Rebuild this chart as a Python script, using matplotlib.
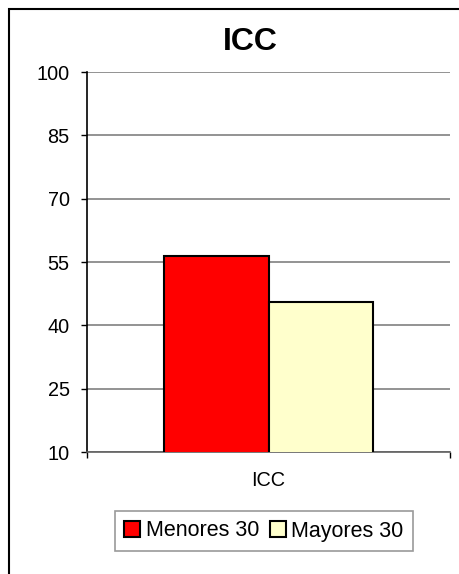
import matplotlib
matplotlib.use("Agg")
import matplotlib.pyplot as plt
from matplotlib.patches import Rectangle

plt.rcParams['font.family'] = ['Liberation Sans', 'DejaVu Sans']

#%% data
categories = ["ICC"]
series_names = ["Menores 30", "Mayores 30"]
menores = [56.5]
mayores = [45.5]
yticks = [10, 25, 40, 55, 70, 85, 100]

#%% figure
fig = plt.figure(figsize=(4.59, 5.74), dpi=100)
fig.patch.set_facecolor("white")

# outer chart border (cut off at right and bottom)
fig.patches.append(Rectangle((9 / 459, -0.2), 2, 0.2 + 1 - 9 / 574,
                             transform=fig.transFigure, fill=False,
                             edgecolor="black", linewidth=1.5, zorder=0))

ax = fig.add_axes([87 / 459, 1 - 452 / 574, 363 / 459, 380 / 574])

w = 0.287
x0 = 0
ax.bar(x0 - w / 2, menores[0], width=w, color="#ff0000", edgecolor="black",
       linewidth=1.5, label=series_names[0], zorder=3)
ax.bar(x0 + w / 2, mayores[0], width=w, color="#ffffcc", edgecolor="black",
       linewidth=1.5, label=series_names[1], zorder=3)

ax.set_xlim(-0.5, 0.5)
ax.set_ylim(10, 100)
ax.set_yticks(yticks)
ax.yaxis.grid(True, color="#808080", linewidth=1.2, zorder=0)
ax.tick_params(axis="y", direction="out", length=4.5, width=1, labelsize=14.3,
               pad=8, color="black")

ax.set_xticks([-0.5, 0.5])
ax.set_xticklabels(["", ""])
ax.set_xticks([0], minor=True)
ax.set_xticklabels(categories, minor=True)
ax.tick_params(axis="x", which="major", direction="out", length=4.5, width=1,
               color="black")
ax.tick_params(axis="x", which="minor", length=0, labelsize=14.3, pad=14)

for s in ["top", "right"]:
    ax.spines[s].set_visible(False)
ax.spines["left"].set_color("black")
ax.spines["left"].set_linewidth(1.2)
ax.spines["bottom"].set_color("#606060")
ax.spines["bottom"].set_linewidth(1.2)
ax.set_axisbelow(True)

fig.text(250 / 459, 1 - 42 / 574, "ICC", ha="center", va="center",
         fontsize=23, fontweight="bold")

leg = fig.legend(loc="center", bbox_to_anchor=(264 / 459, 1 - 531 / 574),
                 ncol=2, fontsize=15.5, frameon=True, fancybox=False,
                 handlelength=0.75, handleheight=0.75, handletextpad=0.25,
                 columnspacing=0.5, borderpad=0.45)
leg.get_frame().set_edgecolor("#808080")
leg.get_frame().set_linewidth(1.2)

fig.savefig("out.png", dpi=100)
